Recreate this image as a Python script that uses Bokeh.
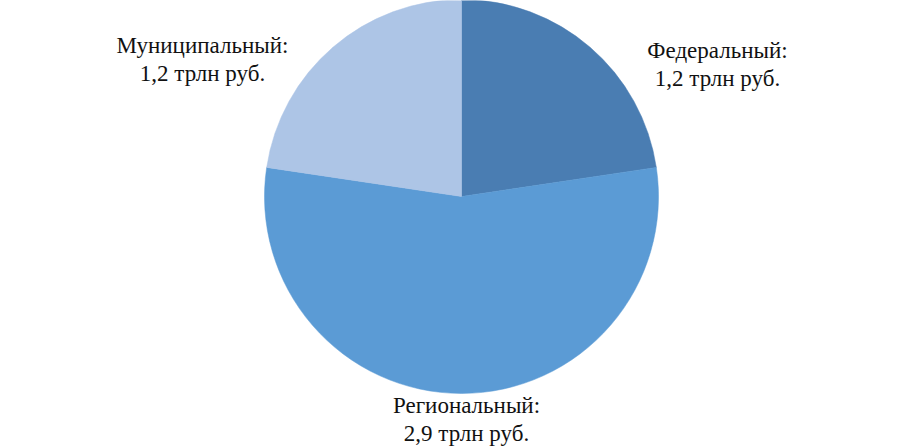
import math
from bokeh.plotting import figure
from bokeh.models import ColumnDataSource, Range1d
from bokeh.core.properties import value
from bokeh.embed import file_html
from bokeh.resources import INLINE

# Data
categories = ["Федеральный", "Региональный", "Муниципальный"]
values = [1.2, 2.9, 1.2]
colors = ["#4a7db2", "#5b9bd5", "#adc5e6"]
unit = "трлн руб."

W, H = 899, 448
p = figure(width=W, height=H, output_backend="svg", toolbar_location=None,
           x_range=Range1d(0, W), y_range=Range1d(0, H), min_border=0)
p.axis.visible = False
p.grid.visible = False
p.outline_line_color = None
p.background_fill_color = "white"

cx, cy, r = 461, H - 196, 197
total = sum(values)
starts, ends = [], []
a = math.pi / 2
for v in values:
    e = a - v / total * 2 * math.pi
    starts.append(e)
    ends.append(a)
    a = e

src = ColumnDataSource(dict(start=starts, end=ends, color=colors))
p.wedge(x=cx, y=cy, radius=r, start_angle="start", end_angle="end",
        fill_color="color", line_color="color", line_width=0.5, source=src)

# label positions (screen coords of line centres)
lx = [717, 466, 202]
ly1 = [50, 405, 45]
line1 = [c + ":" for c in categories]
line2 = [("%.1f" % v).replace(".", ",") + " " + unit for v in values]
lsrc = ColumnDataSource(dict(x=lx, y1=[H - y for y in ly1], y2=[H - y - 28 for y in ly1],
                             t1=line1, t2=line2))
for ycol, tcol in (("y1", "t1"), ("y2", "t2")):
    p.text(x="x", y=ycol, text=tcol, source=lsrc, text_align="center",
           text_baseline="middle", text_font=value("Liberation Serif"),
           text_font_size="23px", text_color="#111111")

open("out.html", "w").write(file_html(p, INLINE))
